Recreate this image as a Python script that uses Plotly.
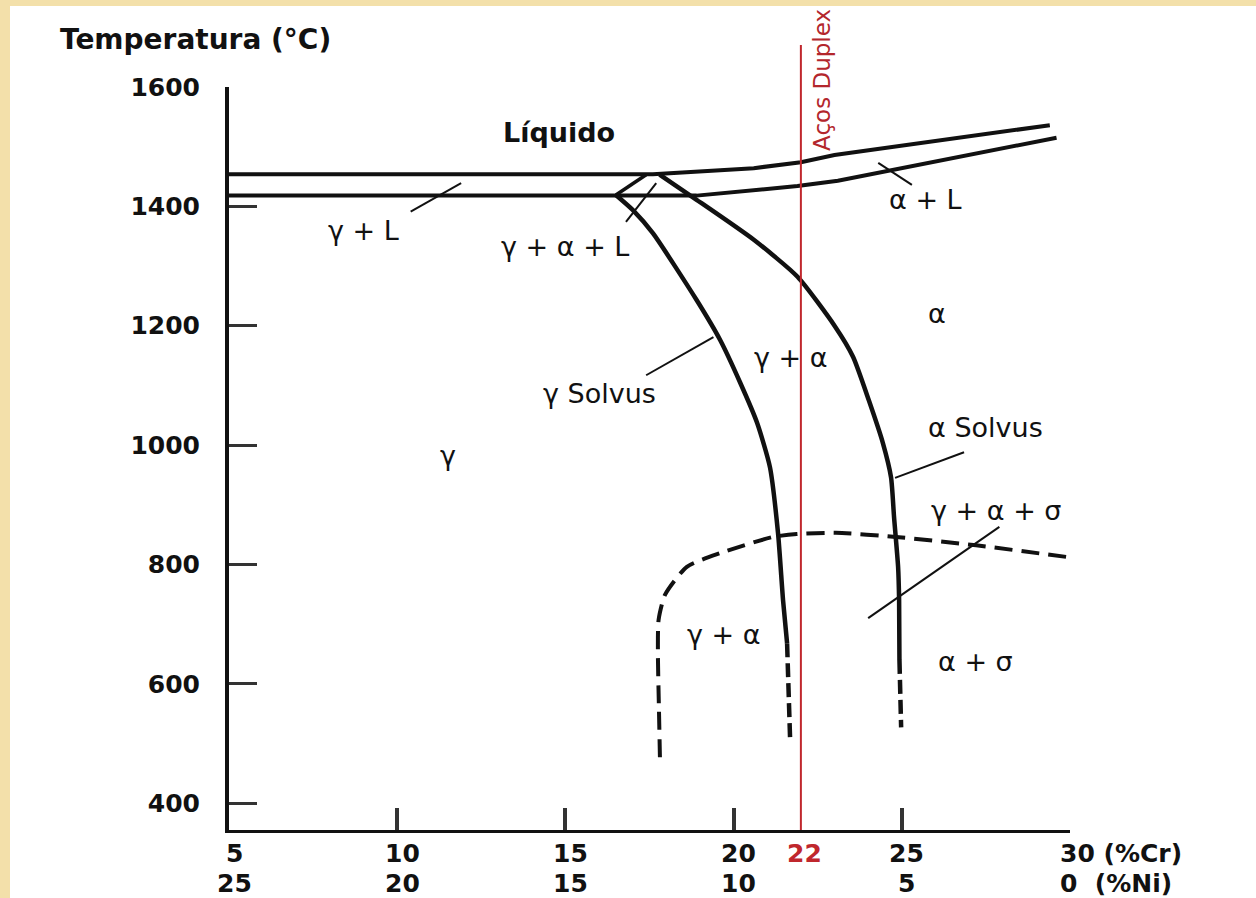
import plotly.graph_objects as go

# ---------------- data ----------------
cr_ticks = [5, 10, 15, 20, 25, 30]
ni_ticks = [25, 20, 15, 10, 5, 0]
temp_ticks = [400, 600, 800, 1000, 1200, 1400, 1600]
duplex_cr = 22

liquidus_cr = [5, 17.6, 20.6, 22.0, 23.0, 29.4]
liquidus_t = [1454, 1454, 1464, 1474, 1486, 1536]

solidus_cr = [5, 18.9, 21.9, 23.1, 29.6]
solidus_t = [1418, 1418, 1434, 1443, 1515]

three_phase_cr = [16.5, 17.4]
three_phase_t = [1419, 1453]

gamma_solvus_cr = [16.5, 17.0, 17.6, 18.9, 19.6, 20.2, 20.7, 21.08, 21.32, 21.47, 21.59]
gamma_solvus_t = [1419, 1394, 1355, 1243, 1176, 1104, 1037, 963, 853, 740, 668]
gamma_solvus_low_cr = [21.59, 21.64, 21.68]
gamma_solvus_low_t = [668, 590, 506]

alpha_solvus_cr = [17.8, 18.9, 20.6, 21.9, 23.0, 23.55, 24.02, 24.44, 24.68, 24.77, 24.89, 24.92, 24.93]
alpha_solvus_t = [1453, 1411, 1344, 1282, 1200, 1148, 1075, 1003, 946, 879, 796, 740, 640]
alpha_solvus_low_cr = [24.93, 24.96, 24.98]
alpha_solvus_low_t = [640, 580, 527]

sigma_cr = [17.81, 17.78, 17.75, 17.77, 17.96, 18.61, 19.6, 21.17, 21.88, 23.04, 24.83, 27.21, 29.97]
sigma_t = [477, 560, 650, 707, 749, 796, 819, 846, 851, 853, 846, 832, 812]

# region labels
labels_text = ["Líquido", "γ + L", "γ + α + L", "α + L", "α", "γ + α",
               "γ Solvus", "γ", "α Solvus", "γ + α + σ", "γ + α", "α + σ"]
labels_cr = [14.8, 9.0, 15.0, 25.7, 26.05, 21.7, 16.0, 11.5, 27.5, 27.8, 19.7, 27.2]
labels_t = [1523, 1360, 1332, 1411, 1220, 1146, 1087, 983, 1029, 891, 682, 637]
labels_bold = [True] + [False] * 11

# leader lines: pairs of (Cr, T)
leaders_cr = [[10.4, 11.9], [16.8, 17.7], [24.3, 25.3], [17.4, 19.4], [24.8, 26.85], [24.0, 27.9]]
leaders_t = [[1391, 1439], [1374, 1439], [1473, 1436], [1117, 1181], [945, 988], [710, 863]]

# ---------------- figure ----------------
FONT = "DejaVu Sans"
INK = "#111111"
RED = "#c0272d"

fig = go.Figure()

def line(xs, ys, width=4.5, dash="solid", shape="linear"):
    fig.add_trace(go.Scatter(x=xs, y=ys, mode="lines", hoverinfo="skip",
                             line=dict(color=INK, width=width, dash=dash, shape=shape,
                                       smoothing=0.6),
                             showlegend=False))

line(liquidus_cr, liquidus_t, 4)
line(solidus_cr, solidus_t, 4)
line(three_phase_cr, three_phase_t, 3.5)
line(gamma_solvus_cr, gamma_solvus_t, 4.5, shape="spline")
line(gamma_solvus_low_cr, gamma_solvus_low_t, 4.5, dash="14px,6px")
line(alpha_solvus_cr, alpha_solvus_t, 4.5, shape="spline")
line(alpha_solvus_low_cr, alpha_solvus_low_t, 4.5, dash="14px,6px")
line(sigma_cr, sigma_t, 4, dash="18px,9px", shape="spline")
for lx, lt in zip(leaders_cr, leaders_t):
    line(lx, lt, 2)

annotations = []
for txt, cx, ty, b in zip(labels_text, labels_cr, labels_t, labels_bold):
    annotations.append(dict(x=cx, y=ty, xref="x", yref="y", showarrow=False,
                            text=f"<b>{txt}</b>" if b else txt,
                            font=dict(family=FONT, size=27, color=INK)))

# x-axis labels (two rows: %Cr and %Ni)
for c, n in zip(cr_ticks, ni_ticks):
    t1 = f"<b>{c}</b>" if c != 30 else f"<b>{c} (%Cr)</b>"
    t2 = f"<b>{n}</b>" if n != 0 else f"<b>{n}  (%Ni)</b>"
    anchor = "left" if c == 30 else "center"
    shift = -12 if c == 30 else 5
    annotations.append(dict(x=c, y=-0.031, xref="x", yref="paper", showarrow=False,
                            text=t1, xanchor=anchor, yanchor="middle", xshift=shift,
                            font=dict(family=FONT, size=25, color=INK)))
    annotations.append(dict(x=c, y=-0.072, xref="x", yref="paper", showarrow=False,
                            text=t2, xanchor=anchor, yanchor="middle", xshift=shift,
                            font=dict(family=FONT, size=25, color=INK)))
annotations.append(dict(x=duplex_cr, y=-0.031, xref="x", yref="paper", showarrow=False,
                        text=f"<b>{duplex_cr}</b>", xanchor="center", yanchor="middle", xshift=4,
                        font=dict(family=FONT, size=25, color=RED)))
annotations.append(dict(x=duplex_cr, y=1.0094, xref="x", yref="paper", showarrow=False,
                        text="Aços Duplex", textangle=-90, xanchor="center", yanchor="middle",
                        xshift=21, font=dict(family=FONT, size=23, color="#b3262c")))
annotations.append(dict(x=-0.2033, y=1.0633, xref="paper", yref="paper", showarrow=False,
                        text="<b>Temperatura (°C)</b>", xanchor="left", yanchor="middle",
                        font=dict(family=FONT, size=28, color=INK)))

shapes = [
    dict(type="rect", xref="paper", yref="paper", x0=-0.2604, x1=1.23, y0=-0.1, y1=1.109,
         fillcolor="white", line=dict(width=0), layer="below"),
    dict(type="line", xref="x", yref="paper", x0=duplex_cr, x1=duplex_cr, y0=0, y1=1.0565,
         line=dict(color=RED, width=2), layer="above"),
]

fig.update_layout(
    width=1256, height=898,
    margin=dict(l=229, r=186, t=87, b=68),
    paper_bgcolor="#f3e0aa", plot_bgcolor="white",
    annotations=annotations, shapes=shapes,
    showlegend=False, hovermode=False,
    xaxis=dict(range=[5, 30], showgrid=False, zeroline=False, showline=True,
               linecolor=INK, linewidth=3, ticks="inside", tickvals=cr_ticks[1:],
               ticklen=22, tickwidth=4, tickcolor="#333333", showticklabels=False),
    yaxis=dict(range=[355, 1600], showgrid=False, zeroline=False, showline=True,
               linecolor=INK, linewidth=4, ticks="inside", tickvals=temp_ticks,
               ticktext=[f"<b>{t}</b>" for t in temp_ticks],
               ticklen=28, tickwidth=3, tickcolor="#333333",
               ticklabelstandoff=20,
               tickfont=dict(family=FONT, size=25, color=INK)),
)

fig.write_html("out.html", config={"displayModeBar": False},
               post_script="document.body.style.margin='0';document.body.style.overflow='hidden';")
